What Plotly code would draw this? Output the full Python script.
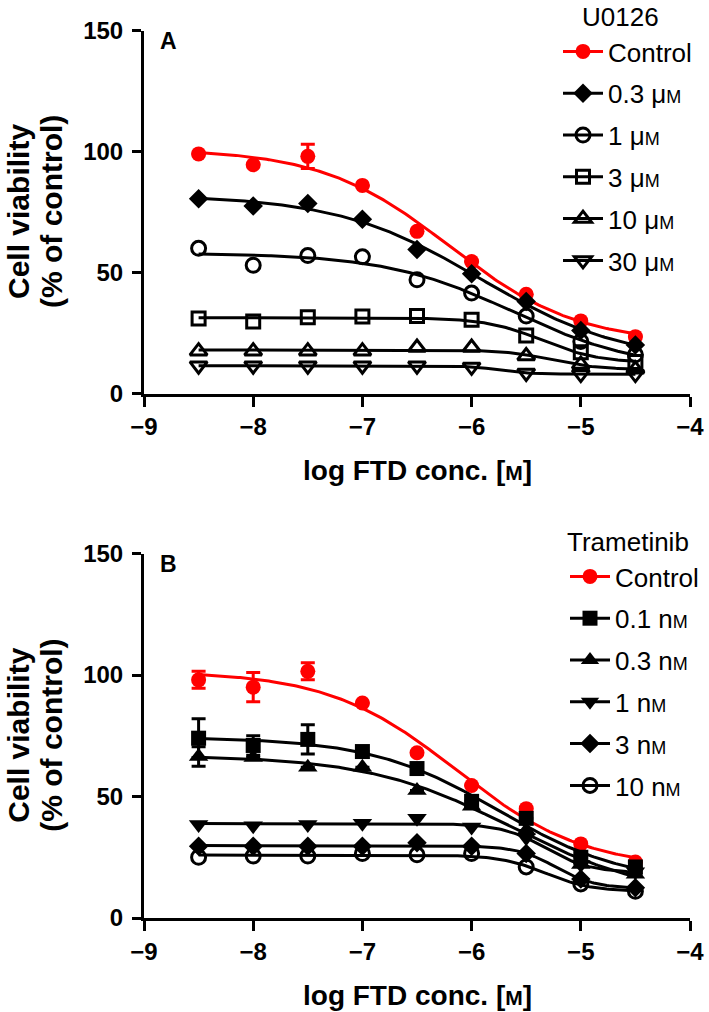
import numpy as np
import plotly.graph_objects as go

# ---------------- data ----------------
LOG_CONC = [-8.5, -8.0, -7.5, -7.0, -6.5, -6.0, -5.5, -5.0, -4.5]

# Panel A: U0126
A_CONTROL = [99, 94.5, 98, 86, 67, 54.5, 41, 30, 23.5]
A_CONTROL_ERR = [None, None, 5, None, None, None, None, None, None]
A_U03 = [80.5, 77.5, 78.5, 72, 59.5, 49.5, 38, 26, 20]
A_U1 = [60, 53, 57, 56.5, 47, 41.5, 32, 21.5, 16]
A_U3 = [31, 29.8, 31.5, 31.8, 32, 30.5, 24, 17, 13]
A_U10 = [17.5, 17.5, 17.5, 17.5, 19, 19, 15.5, 12, 10]
A_U30 = [11.5, 11.5, 11.5, 11.5, 11.5, 11, 8.5, 8, 8]

# Panel B: Trametinib
B_CONTROL = [98, 95, 101.5, 88.5, 68, 54.5, 45, 30.5, 23]
B_CONTROL_ERR = [3.5, 6, 3.5, None, None, None, None, None, None]
B_T01 = [74, 71, 73.5, 68.5, 61.5, 48, 41, 25, 21]
B_T01_ERR = [8, 4, 6, None, None, None, None, None, None]
B_T03 = [66.5, 66, 62, 62, 52.5, 46, 36, 22, 18]
B_T03_ERR = [4, None, None, None, None, None, None, None, None]
B_T1 = [38.5, 38, 38.5, 39, 41, 37.5, 33, 22, 19]
B_T3 = [29.5, 29.5, 29.5, 29.5, 31, 29.5, 26.5, 16, 12.5]
B_T10 = [25, 25.5, 25.5, 26.5, 26, 26.5, 21, 14, 11]

LEGEND_A_TITLE = "U0126"
LEGEND_B_TITLE = "Trametinib"
SM = "<span style='font-size:18px'>M</span>"
A_NAMES = ["Control", "0.3 μ" + SM, "1 μ" + SM, "3 μ" + SM, "10 μ" + SM, "30 μ" + SM]
B_NAMES = ["Control", "0.1 n" + SM, "0.3 n" + SM, "1 n" + SM, "3 n" + SM, "10 n" + SM]

FONT = "Liberation Sans, Arial, sans-serif"
RED = "#ff0000"
BLACK = "#000000"


def fit4pl(x, y):
    """Least-squares 4-parameter logistic fit (grid over logIC50 & slope)."""
    x = np.asarray(x, float)
    y = np.asarray(y, float)
    cs = np.linspace(-9.5, -3.0, 651)
    hs = np.linspace(0.3, 3.0, 136)
    C, H = np.meshgrid(cs, hs, indexing="ij")
    f = 1.0 / (1.0 + 10.0 ** ((x[None, None, :] - C[..., None]) * H[..., None]))
    fm = f.mean(-1)
    ym = y.mean()
    cov = ((f - fm[..., None]) * (y - ym)).sum(-1)
    var = ((f - fm[..., None]) ** 2).sum(-1)
    a = cov / np.where(var > 1e-12, var, np.nan)
    b = ym - a * fm
    resid = ((b[..., None] + a[..., None] * f - y) ** 2).sum(-1)
    i, j = np.unravel_index(np.nanargmin(resid), resid.shape)
    return b[i, j], a[i, j], cs[i], hs[j]


def curve(x, y):
    b, a, c, h = fit4pl(x, y)
    xs = np.linspace(min(x), max(x), 200)
    ys = b + a / (1.0 + 10.0 ** ((xs - c) * h))
    return xs, ys


fig = go.Figure()


def add_series(xax, yax, legend, y, err, name, color, symbol, size, group):
    xs, ys = curve(LOG_CONC, y)
    fig.add_trace(go.Scatter(
        x=xs, y=ys, mode="lines", line=dict(color=color, width=3),
        xaxis=xax, yaxis=yax, showlegend=False, hoverinfo="skip"))
    ed = None
    if err is not None:
        ed = dict(type="data", array=err, visible=True, color=color,
                  thickness=3, width=7)
    open_sym = symbol.endswith("-open")
    mk = dict(symbol=symbol, size=size, color=color,
              line=dict(color=color, width=3 if open_sym else 0))
    fig.add_trace(go.Scatter(
        x=LOG_CONC, y=y, mode="markers", xaxis=xax, yaxis=yax,
        error_y=ed, cliponaxis=False, showlegend=False, marker=mk))
    # legend entry
    fig.add_trace(go.Scatter(
        x=[None], y=[None], mode="lines+markers", name=name,
        legend=legend, legendgroup=group, xaxis=xax, yaxis=yax,
        line=dict(color=color, width=3), marker=mk))


A_SERIES = [
    (A_CONTROL, A_CONTROL_ERR, RED, "circle", 15),
    (A_U03, None, BLACK, "diamond", 15),
    (A_U1, None, BLACK, "circle-open", 14),
    (A_U3, None, BLACK, "square-open", 13),
    (A_U10, None, BLACK, "triangle-up-open", 15),
    (A_U30, None, BLACK, "triangle-down-open", 15),
]
B_SERIES = [
    (B_CONTROL, B_CONTROL_ERR, RED, "circle", 15),
    (B_T01, B_T01_ERR, BLACK, "square", 15),
    (B_T03, B_T03_ERR, BLACK, "triangle-up", 17),
    (B_T1, None, BLACK, "triangle-down", 17),
    (B_T3, None, BLACK, "diamond", 15),
    (B_T10, None, BLACK, "circle-open", 14),
]

for k, (y, e, c, s, sz) in enumerate(A_SERIES):
    add_series("x", "y", "legend", y, e, A_NAMES[k], c, s, sz, "a%d" % k)
for k, (y, e, c, s, sz) in enumerate(B_SERIES):
    add_series("x2", "y2", "legend2", y, e, B_NAMES[k], c, s, sz, "b%d" % k)

W, H = 709, 1012
XD = [144 / W, 690 / W]
YA = [1 - 393.5 / H, 1 - 30.5 / H]
YB = [1 - 918 / H, 1 - 553.5 / H]

xcommon = dict(range=[-9, -4], tickvals=[-9, -8, -7, -6, -5, -4],
               showline=True, linewidth=3, linecolor=BLACK, ticks="outside",
               ticklen=10, tickwidth=3, tickcolor=BLACK, showgrid=False,
               zeroline=False, ticklabelstandoff=0, automargin=False,
               tickfont=dict(family=FONT, size=24, color=BLACK, weight="bold"),
               domain=XD)
ycommon = dict(range=[0, 150], tickvals=[0, 50, 100, 150],
               showline=True, linewidth=3, linecolor=BLACK, ticks="outside",
               ticklen=9, tickwidth=3, tickcolor=BLACK, showgrid=False,
               zeroline=False, ticklabelstandoff=4, automargin=False,
               tickfont=dict(family=FONT, size=24, color=BLACK, weight="bold"))

legcommon = dict(font=dict(family=FONT, size=26, color=BLACK),
                 bgcolor="rgba(0,0,0,0)", tracegroupgap=5, itemwidth=40,
                 xanchor="left", yanchor="top", traceorder="grouped",
                 xref="container", yref="container")

XT = "log FTD conc. [<span style='font-size:21px'>M</span>]"
YT1 = "Cell viability"
YT2 = "(% of control)"

ann = []
for (yd, letter, ltitle, lx, tdy) in [(YA, "A", LEGEND_A_TITLE, 580, -13), (YB, "B", LEGEND_B_TITLE, 565, -12)]:
    top_px = (1 - yd[1]) * H
    bot_px = (1 - yd[0]) * H
    ann.append(dict(text=letter, x=158 / W, y=1 - (top_px + 10) / H, xref="paper", yref="paper",
                    xanchor="left", yanchor="middle", showarrow=False,
                    font=dict(family=FONT, size=23, color=BLACK, weight="bold")))
    for txt, cx in [(YT1, 19), (YT2, 52)]:
        ann.append(dict(text=txt, x=cx / W, y=(yd[0] + yd[1]) / 2, xref="paper", yref="paper",
                        xanchor="center", yanchor="middle", textangle=-90, showarrow=False,
                        font=dict(family=FONT, size=30, color=BLACK, weight="bold")))
    ann.append(dict(text=XT, x=417 / W, y=1 - (bot_px + 77) / H, xref="paper", yref="paper",
                    xanchor="center", yanchor="middle", showarrow=False,
                    font=dict(family=FONT, size=28, color=BLACK, weight="bold")))
    ann.append(dict(text=ltitle, x=lx / W, y=1 - (top_px + tdy) / H, xref="paper", yref="paper",
                    xanchor="left", yanchor="middle", showarrow=False,
                    font=dict(family=FONT, size=26, color=BLACK)))

fig.update_layout(
    width=W, height=H, autosize=False,
    margin=dict(l=0, r=0, t=0, b=0, autoexpand=False),
    paper_bgcolor="white", plot_bgcolor="white",
    xaxis=dict(xcommon, anchor="y"),
    yaxis=dict(ycommon, domain=YA, anchor="x"),
    xaxis2=dict(xcommon, anchor="y2"),
    yaxis2=dict(ycommon, domain=YB, anchor="x2"),
    legend=dict(legcommon, x=558 / W, y=1 - 28 / H),
    legend2=dict(legcommon, x=565 / W, y=1 - 553 / H),
    annotations=ann,
    showlegend=True,
)

fig.write_html("out.html", config={"displayModeBar": False},
               post_script="document.body.style.margin='0px';")
